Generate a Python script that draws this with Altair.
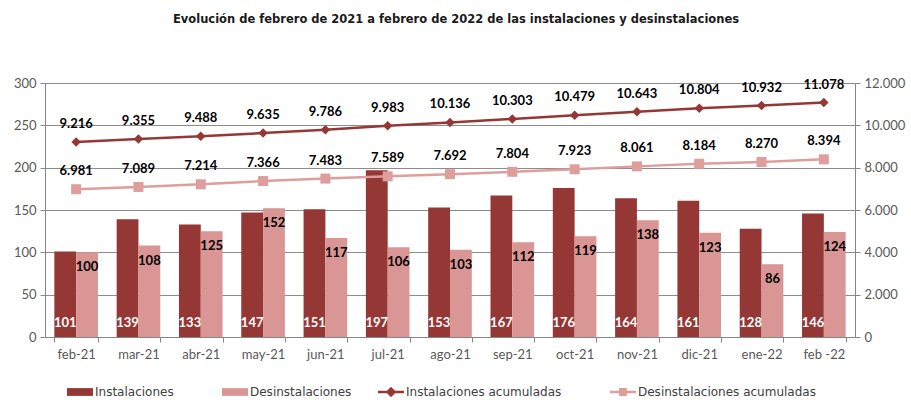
import altair as alt
import pandas as pd

meses = ["feb-21", "mar-21", "abr-21", "may-21", "jun-21", "jul-21", "ago-21",
         "sep-21", "oct-21", "nov-21", "dic-21", "ene-22", "feb -22"]
instalaciones = [101, 139, 133, 147, 151, 197, 153, 167, 176, 164, 161, 128, 146]
desinstalaciones = [100, 108, 125, 152, 117, 106, 103, 112, 119, 138, 123, 86, 124]
inst_acum = [9216, 9355, 9488, 9635, 9786, 9983, 10136, 10303, 10479, 10643, 10804, 10932, 11078]
desinst_acum = [6981, 7089, 7214, 7366, 7483, 7589, 7692, 7804, 7923, 8061, 8184, 8270, 8394]

series = ["Instalaciones", "Desinstalaciones", "Instalaciones acumuladas", "Desinstalaciones acumuladas"]
DARK = "#953735"
PINK = "#D99694"
PINK_LINE = "#DE9E9C"
FONT = "Lato"
WIDE = "DejaVu Sans"


def fmt(v):
    return f"{v:,}".replace(",", ".")


bars = pd.DataFrame({
    "mes": meses * 2,
    "serie": [series[0]] * 13 + [series[1]] * 13,
    "valor": instalaciones + desinstalaciones,
})
lines = pd.DataFrame({
    "mes": meses * 2,
    "serie": [series[2]] * 13 + [series[3]] * 13,
    "valor": inst_acum + desinst_acum,
    "label": [fmt(v) for v in inst_acum + desinst_acum],
})
leg = pd.DataFrame({"serie": series})

xenc = alt.X("mes:N", sort=meses, title=None,
             scale=alt.Scale(paddingInner=0.3, paddingOuter=0.15),
             axis=alt.Axis(tickBand="extent", labelFont=FONT, labelFontSize=13,
                           labelColor="#595959", labelPadding=6, domainColor="#868686",
                           tickColor="#868686", tickSize=5, labelAngle=0, grid=False))
xoff = alt.XOffset("serie:N", sort=series[:2], scale=alt.Scale(domain=series[:2]))
yl = alt.Y("valor:Q", title=None,
           scale=alt.Scale(domain=[0, 300], nice=False),
           axis=alt.Axis(values=[0, 50, 100, 150, 200, 250, 300], labelFont=FONT,
                         labelFontSize=13, labelColor="#595959", gridColor="#8C8C8C",
                         domainColor="#868686", tickColor="#868686", tickSize=5,
                         labelPadding=4))
yr = alt.Y("valor:Q", title=None,
           scale=alt.Scale(domain=[0, 12000], nice=False),
           axis=alt.Axis(orient="right", values=[0, 2000, 4000, 6000, 8000, 10000, 12000],
                         labelExpr="replace(format(datum.value, ','), ',', '.')",
                         labelFont=FONT, labelFontSize=13, labelColor="#595959",
                         grid=False, domainColor="#868686", tickColor="#868686",
                         tickSize=5, labelPadding=4))

base_b = alt.Chart(bars)
bar_layer = base_b.mark_bar().encode(
    x=xenc, xOffset=xoff, y=yl,
    color=alt.condition(f"datum.serie == '{series[0]}'", alt.value(DARK), alt.value(PINK)),
)
inst_lbl = base_b.transform_filter(f"datum.serie == '{series[0]}'").mark_text(
    font=FONT, fontSize=13, fontWeight="bold", color="white", baseline="middle", dy=-14
).encode(x=xenc, xOffset=xoff, y=alt.Y(datum=0), text="valor:Q")
des_lbl = base_b.transform_filter(f"datum.serie == '{series[1]}'").mark_text(
    font=FONT, fontSize=13, fontWeight="bold", color="black", baseline="middle", dy=15
).encode(x=xenc, xOffset=xoff, y=yl, text="valor:Q")

left = alt.layer(bar_layer, inst_lbl, des_lbl)

base_l = alt.Chart(lines)
l1 = base_l.transform_filter(f"datum.serie == '{series[2]}'")
l2 = base_l.transform_filter(f"datum.serie == '{series[3]}'")
line1 = l1.mark_line(color=DARK, strokeWidth=2.5).encode(x=xenc, y=yr)
pt1 = l1.mark_point(shape="diamond", filled=True, color=DARK, size=90, opacity=1).encode(x=xenc, y=yr)
line2 = l2.mark_line(color=PINK_LINE, strokeWidth=2.5).encode(x=xenc, y=yr)
pt2 = l2.mark_point(shape="square", filled=True, color=PINK_LINE, size=100, opacity=1).encode(x=xenc, y=yr)
txt = base_l.mark_text(font=FONT, fontSize=13, fontWeight="bold", color="black",
                       baseline="middle", dy=-18).encode(x=xenc, y=yr, text="label:N")

right = alt.layer(line1, line2, pt1, pt2, txt)

RECT = "M-1,-0.3H1V0.3H-1Z"
LDIA = "M-1,-0.1H1V0.1H-1Z M0,-0.4L0.4,0L0,0.4L-0.4,0Z"
LSQ = "M-1,-0.1H1V0.1H-1Z M-0.3,-0.3H0.3V0.3H-0.3Z"
leg_x = [22, 177, 333, 565]
LEG_Y = 296


def legend(i, shape, fillc):
    return alt.Legend(title=None, orient="none", legendX=leg_x[i], legendY=LEG_Y,
                      labelFont=WIDE, labelFontSize=12, labelColor="#404040",
                      labelLimit=400, symbolSize=676, symbolStrokeWidth=0,
                      symbolType=shape, symbolFillColor=fillc, labelOffset=2)


lb = alt.Chart(leg).transform_filter("false")
lg1 = lb.mark_point(filled=True, opacity=1).encode(
    color=alt.Color("serie:N", scale=alt.Scale(domain=[series[0]], range=[DARK]),
                    legend=legend(0, RECT, DARK)))
lg2 = lb.mark_point(filled=True, opacity=1).encode(
    fill=alt.Fill("serie:N", scale=alt.Scale(domain=[series[1]], range=[PINK]),
                  legend=legend(1, RECT, PINK)))
lg3 = lb.mark_point(filled=True, opacity=1, color=DARK).encode(
    stroke=alt.Stroke("serie:N", scale=alt.Scale(domain=[series[2]], range=[DARK]),
                      legend=legend(2, LDIA, DARK)))
lg4 = lb.mark_point(filled=True, opacity=1, color=PINK_LINE).encode(
    shape=alt.Shape("serie:N", scale=alt.Scale(domain=[series[3]], range=[LSQ]),
                    legend=legend(3, LSQ, PINK_LINE)))

chart = alt.layer(left, right, lg1, lg2, lg3, lg4).resolve_scale(y="independent").properties(
    width=810, height=254,
    autosize=alt.AutoSizeParams(type="none"),
    padding={"left": 45, "top": 83, "right": 56, "bottom": 65},
    title=alt.Title("Evolución de febrero de 2021 a febrero de 2022 de las instalaciones y desinstalaciones",
                    font=WIDE, fontSize=11.5, fontWeight="bold", color="#1a1a1a",
                    anchor="middle", offset=52, dx=6),
).configure_view(stroke=None)

chart.save("out.html", embed_options={"renderer": "svg", "actions": False})
